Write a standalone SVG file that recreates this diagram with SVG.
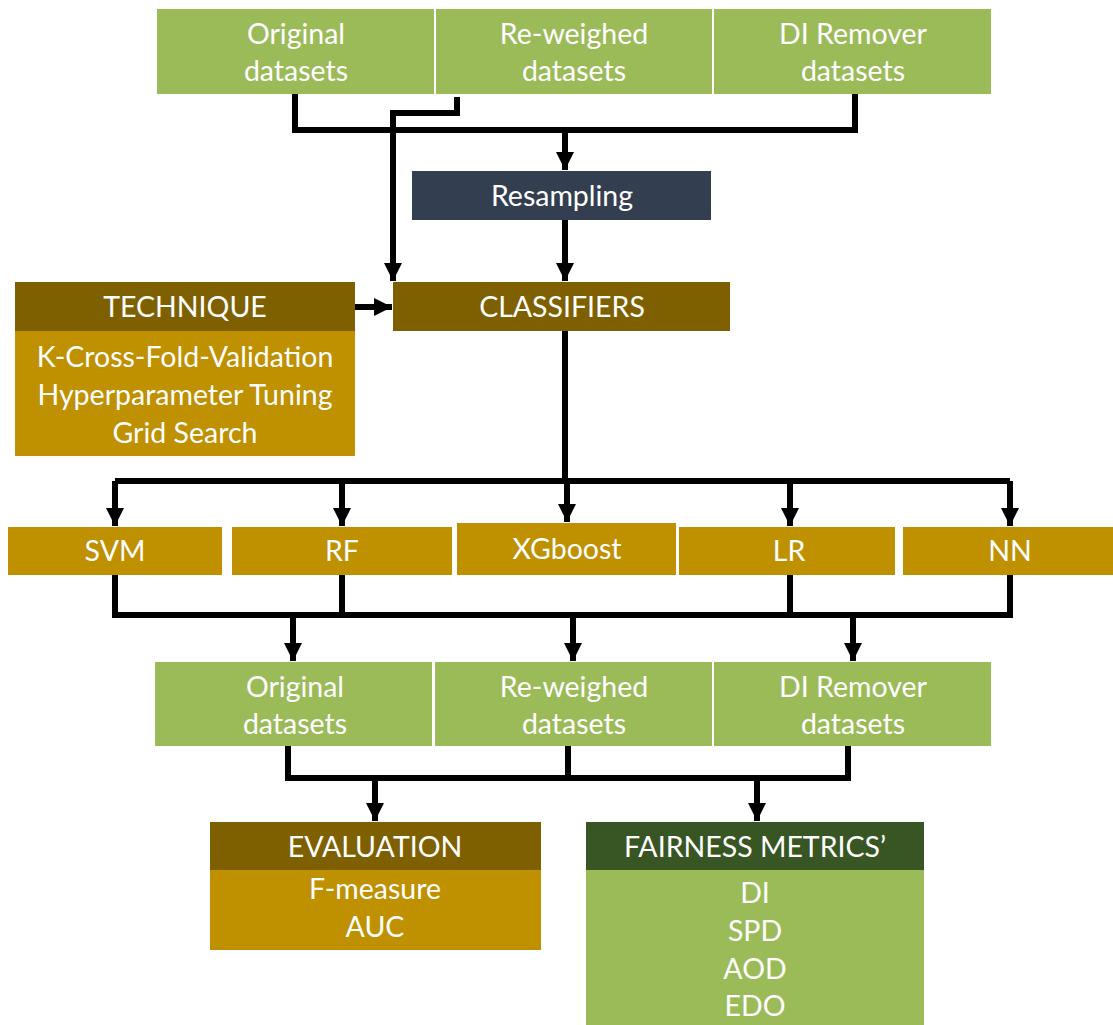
<svg xmlns="http://www.w3.org/2000/svg" width="1113" height="1025" viewBox="0 0 1113 1025">
<style>
.t{font-family:Lato,"Open Sans",sans-serif;font-size:28.5px;fill:#fff;text-anchor:middle}
.g{fill:#9BBB59}
.b{fill:#7F6000}
.y{fill:#BF9000}
.d{fill:#333F50}
.k{fill:#375623}
.c{fill:none;stroke:#000;stroke-width:6;stroke-linejoin:miter}
</style>
<defs>
<marker id="a" markerUnits="userSpaceOnUse" markerWidth="18" markerHeight="22" refX="16" refY="8" orient="auto" viewBox="0 0 16 16">
<path d="M0,0 L16,8 L0,16 z" fill="#000"/>
</marker>
</defs>
<rect width="1113" height="1025" fill="#fff"/>
<g id="connectors">
<path class="c" d="M295,94 V130 H855 V94"/>
<path class="c" d="M565,130 V170" marker-end="url(#a)"/>
<path class="c" d="M457,97 V113 H393 V281" marker-end="url(#a)"/>
<path class="c" d="M565,220 V281" marker-end="url(#a)"/>
<path class="c" d="M355,307 H392" marker-end="url(#a)"/>
<path class="c" d="M565,331 V481"/>
<path class="c" d="M115,481 H1010"/>
<path class="c" d="M115,481 V526" marker-end="url(#a)"/>
<path class="c" d="M342,481 V526" marker-end="url(#a)"/>
<path class="c" d="M567,481 V522" marker-end="url(#a)"/>
<path class="c" d="M790,481 V526" marker-end="url(#a)"/>
<path class="c" d="M1010,481 V526" marker-end="url(#a)"/>
<path class="c" d="M115,575 V615 H1010 V575"/>
<path class="c" d="M342,575 V615"/>
<path class="c" d="M790,575 V615"/>
<path class="c" d="M293,615 V661" marker-end="url(#a)"/>
<path class="c" d="M573,615 V661" marker-end="url(#a)"/>
<path class="c" d="M853,615 V661" marker-end="url(#a)"/>
<path class="c" d="M288,746 V778 H848 V746"/>
<path class="c" d="M568,746 V778"/>
<path class="c" d="M375,778 V821" marker-end="url(#a)"/>
<path class="c" d="M757,778 V821" marker-end="url(#a)"/>
</g>
<g id="top-original"><rect class="g" x="157" y="9" width="277" height="85"/><text class="t" x="296" y="44">Original</text><text class="t" x="296" y="81">datasets</text></g>
<g id="top-reweighed"><rect class="g" x="436" y="9" width="276" height="85"/><text class="t" x="574" y="44">Re-weighed</text><text class="t" x="574" y="81">datasets</text></g>
<g id="top-diremover"><rect class="g" x="714" y="9" width="277" height="85"/><text class="t" x="853" y="44">DI Remover</text><text class="t" x="853" y="81">datasets</text></g>
<g id="resampling"><rect class="d" x="412" y="171" width="299" height="49"/><text class="t" x="562" y="206">Resampling</text></g>
<g id="technique"><rect class="b" x="15" y="282" width="340" height="49"/><rect class="y" x="15" y="331" width="340" height="125"/><text class="t" x="185" y="317">TECHNIQUE</text><text class="t" x="185" y="367">K-Cross-Fold-Validation</text><text class="t" x="185" y="405">Hyperparameter Tuning</text><text class="t" x="185" y="443">Grid Search</text></g>
<g id="classifiers"><rect class="b" x="393" y="282" width="337" height="49"/><text class="t" x="562" y="317">CLASSIFIERS</text></g>
<g id="svm"><rect class="y" x="8" y="527" width="214" height="48"/><text class="t" x="115" y="561">SVM</text></g>
<g id="rf"><rect class="y" x="232" y="527" width="220" height="48"/><text class="t" x="342" y="561">RF</text></g>
<g id="xgboost"><rect class="y" x="457" y="523" width="219" height="52"/><text class="t" x="567" y="559">XGboost</text></g>
<g id="lr"><rect class="y" x="679" y="527" width="216" height="48"/><text class="t" x="789" y="561">LR</text></g>
<g id="nn"><rect class="y" x="903" y="527" width="210" height="48"/><text class="t" x="1010" y="561">NN</text></g>
<g id="mid-original"><rect class="g" x="155" y="662" width="277" height="84"/><text class="t" x="295" y="697">Original</text><text class="t" x="295" y="734">datasets</text></g>
<g id="mid-reweighed"><rect class="g" x="435" y="662" width="277" height="84"/><text class="t" x="574" y="697">Re-weighed</text><text class="t" x="574" y="734">datasets</text></g>
<g id="mid-diremover"><rect class="g" x="714" y="662" width="277" height="84"/><text class="t" x="853" y="697">DI Remover</text><text class="t" x="853" y="734">datasets</text></g>
<g id="evaluation"><rect class="b" x="210" y="822" width="331" height="48"/><rect class="y" x="210" y="870" width="331" height="80"/><text class="t" x="375" y="857">EVALUATION</text><text class="t" x="375" y="899">F-measure</text><text class="t" x="375" y="937">AUC</text></g>
<g id="fairness"><rect class="k" x="586" y="822" width="338" height="48"/><rect class="g" x="586" y="870" width="338" height="155"/><text class="t" x="755" y="857">FAIRNESS METRICS’</text><text class="t" x="755" y="903">DI</text><text class="t" x="755" y="941">SPD</text><text class="t" x="755" y="979">AOD</text><text class="t" x="755" y="1016">EDO</text></g>
</svg>
